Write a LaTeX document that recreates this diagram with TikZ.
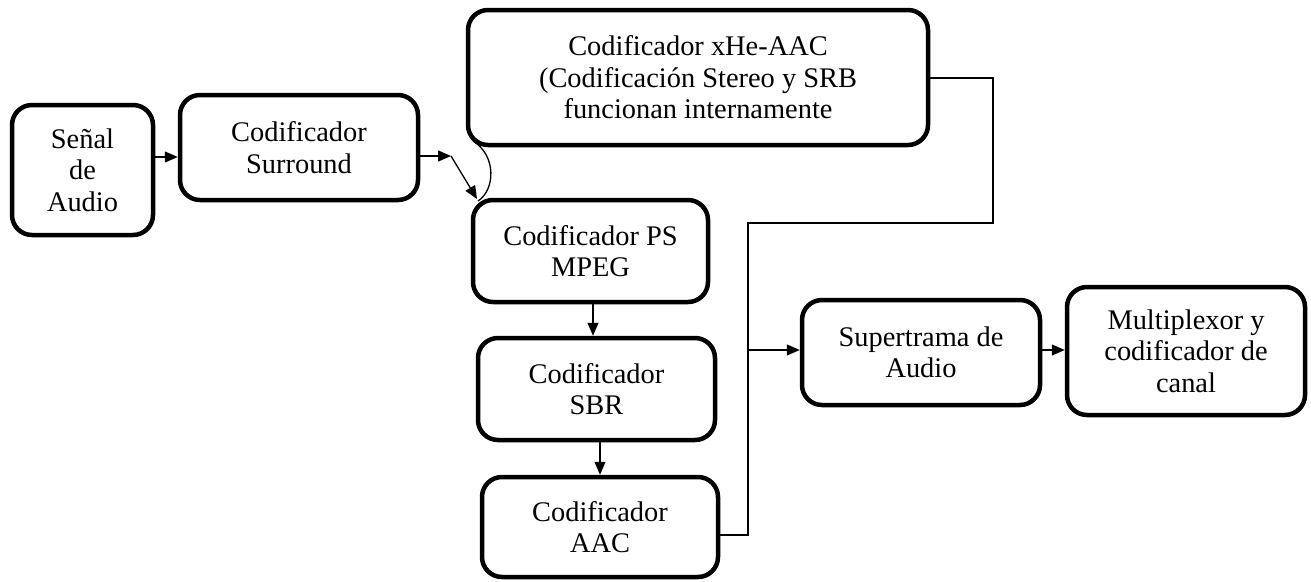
\documentclass[tikz,border=0pt]{standalone}
\usepackage{fontspec}
\setmainfont{Liberation Serif}
\usetikzlibrary{arrows.meta}
\begin{document}
\begin{tikzpicture}[x=1pt,y=-1pt,
  block/.style={draw, line width=4.5pt, rounded corners=20pt, align=center,
    inner sep=0pt, font=\fontsize{28.4}{31.5}\selectfont},
  link/.style={line width=1.3pt},
  flow/.style={link, -{Triangle[length=13pt,width=11pt]}}]
\useasboundingbox (0,0) rectangle (1311,581);

% blocks
\node[block, minimum width=141pt, minimum height=130pt] (senal) at (82.5,170) {Señal\\de\\Audio};
\node[block, minimum width=238pt, minimum height=105pt] (surround) at (299,147.5) {Codificador\\Surround};
\node[block, minimum width=460pt, minimum height=135pt] (xhe) at (698,77.5)
  {Codificador xHe-AAC\\(Codificación Stereo y SRB\\funcionan internamente};
\node[block, minimum width=235pt, minimum height=102pt] (ps) at (590.5,251) {Codificador PS\\MPEG};
\node[block, minimum width=237pt, minimum height=102pt] (sbr) at (596.5,389) {Codificador\\SBR};
\node[block, minimum width=236pt, minimum height=100pt] (aac) at (600,527) {Codificador\\AAC};
\node[block, minimum width=238pt, minimum height=105pt] (super) at (921,352.5) {Supertrama de\\Audio};
\node[block, minimum width=238pt, minimum height=128pt] (mux) at (1186,351) {Multiplexor y\\codificador de\\canal};

% helper points of the connectors
\coordinate (bend) at (451,156);
\coordinate (psin) at (477,199);
\coordinate (arcstart) at (473,141);
\coordinate (arcend) at (478,201);
\coordinate (ra) at (993,78);
\coordinate (rb) at (993,223);
\coordinate (bus) at (748,223);
\coordinate (busend) at (748,535);
\coordinate (tap) at (748,350);
\coordinate (pss) at (593,0);
\coordinate (sbs) at (600,0);

% connectors
\draw[flow] (senal.east |- 0,157) -- (surround.west |- 0,157);
\draw[flow] (surround.east |- bend) -- (bend);
\draw[flow] (bend) -- (psin);
\draw[link] (arcstart) .. controls (497,156) and (495,190) .. (arcend);
\draw[flow] (pss |- ps.south) -- (pss |- sbr.north);
\draw[flow] (sbs |- sbr.south) -- (sbs |- aac.north);
\draw[link] (xhe.east |- ra) -- (ra) -- (rb) -- (bus) -- (busend) -- (aac.east |- busend);
\draw[flow] (tap) -- (super.west |- tap);
\draw[flow] (super.east |- 0,350) -- (mux.west |- 0,350);
\end{tikzpicture}
\end{document}
